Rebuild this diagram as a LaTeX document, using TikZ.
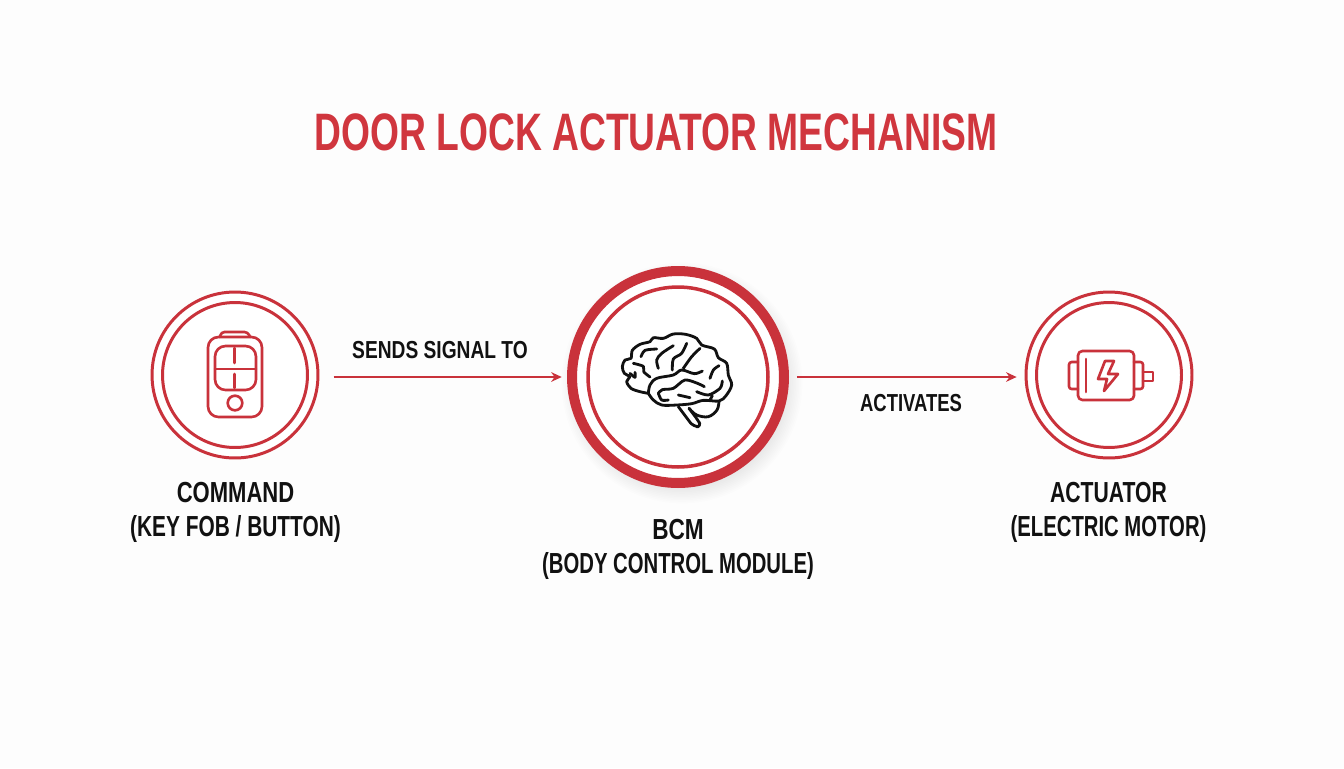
\documentclass[tikz,border=0pt]{standalone}
\usepackage{fontspec}
\setmainfont{Liberation Sans}
\usepackage{xcolor}
\usetikzlibrary{calc,arrows.meta}
\definecolor{paper}{HTML}{FDFDFD}
\definecolor{lockred}{HTML}{C9323B}
\definecolor{titlered}{HTML}{D0363E}
\definecolor{ink}{HTML}{111111}
\newcommand{\nar}[2][0.78]{\scalebox{#1}[1]{#2}}
\tikzset{
  ring/.style={circle, draw=lockred, fill=white, inner sep=0pt, line width=1.7pt, minimum size=#1},
  bigring/.style={ring=#1, line width=5.7pt},
  midring/.style={ring=#1, line width=2pt},
  flow/.style={draw=lockred, line width=1.4pt, -{Stealth[length=6pt,width=5.5pt]}},
  icon/.style={draw=lockred, line width=1.5pt, line cap=round, line join=round},
  brain/.style={draw=ink, line width=1.6pt, line cap=round, line join=round},
  lab/.style={text=ink, font=\bfseries\fontsize{16.5}{19.3}\selectfont, align=center, inner sep=0pt},
  labs/.style={text=ink, font=\bfseries\fontsize{14}{17}\selectfont, align=center, inner sep=0pt},
  ttl/.style={text=titlered, font=\bfseries\fontsize{30}{36}\selectfont, inner sep=0pt},
}
\begin{document}
\begin{tikzpicture}[x=0.02cm,y=-0.02cm]
  \fill[paper] (0,0) rectangle (1344,768);
  \useasboundingbox (0,0) rectangle (1344,768);
  \foreach \k in {1,...,10}
    \fill[black,opacity=0.006] (682,383) circle ({122-\k*1.6});

  \node[ttl] (title) at (656,132) {\nar[0.706]{DOOR LOCK ACTUATOR MECHANISM}};

  \node[ring=3.32cm] (fob) at (235,375) {};
  \node[ring=2.9cm] (fobin) at (235,375) {};
  \node[bigring=4.24cm] (bcm) at (678,377) {};
  \node[midring=3.6cm] (bcmin) at (678,377) {};
  \node[ring=3.32cm] (act) at (1109,375) {};
  \node[ring=2.9cm] (actin) at (1109,375) {};

  \draw[flow,shorten <=8pt,shorten >=3pt] (fob.east |- 0,377) -- (bcm.west);
  \draw[flow,shorten <=4.5pt,shorten >=4.5pt] (bcm.east) -- (act.west |- 0,377);

  \node[labs] (sends) at (440,350) {\nar{SENDS SIGNAL TO}};
  \node[labs] (activates) at (911,403) {\nar[0.75]{ACTIVATES}};
  \node[lab] (cmdlab) at (235.5,512) {\nar[0.76]{COMMAND}\\\nar[0.72]{(KEY FOB / BUTTON)}};
  \node[lab] (bcmlab) at (678,549) {\nar{BCM}\\\nar[0.70]{(BODY CONTROL MODULE)}};
  \node[lab] (actlab) at (1108.5,512) {\nar[0.73]{ACTUATOR}\\\nar[0.70]{(ELECTRIC MOTOR)}};

  \draw[icon,rounded corners=2pt] (220,337) -- (221,332) -- (248,332) -- (250,337);
  \draw[icon,rounded corners=6pt] (208,337) rectangle (262,417);
  \draw[icon,rounded corners=6pt] (215,346) rectangle (256,390);
  \draw[icon] (215,369) -- (256,369);
  \draw[icon] (234.7,348) -- (234.7,363);
  \draw[icon] (234.7,374) -- (234.7,388);
  \draw[icon] (235,403) circle (7.3);

  \draw[icon,rounded corners=2.5pt] (1078,351) rectangle (1134,400);
  \draw[icon,rounded corners=1.5pt] (1078,362) -- (1069,362) -- (1069,389) -- (1078,389);
  \draw[icon,rounded corners=1.5pt] (1134,362) -- (1143,362) -- (1143,389) -- (1134,389);
  \draw[icon] (1143,372) -- (1153,372) -- (1153,381) -- (1143,381);
  \draw[icon] (1086,359) -- (1086,392);
  \draw[icon] (1105,361) -- (1114,361) -- (1108,374) -- (1118,374) -- (1104,391) -- (1107,379) -- (1098,379) -- cycle;

  \begin{scope}[shift={(615,325)},scale=1/3]
    \draw[brain,rounded corners=3pt] (190,245) -- (235,305) -- (260,305) -- (247,283) -- (222,250);
    \draw[brain] plot[smooth,tension=0.6] coordinates {(312,228) (306,255) (280,275) (245,270) (222,250)};
    \draw[brain,fill=white] plot[smooth,tension=0.55] coordinates {(100,205) (75,200) (48,190) (35,170) (44,155) (28,145) (22,125) (30,105) (48,100) (52,76) (75,58) (105,50) (115,38) (145,40) (175,27) (212,28) (245,40) (260,60) (298,72) (310,98) (335,115) (340,150) (350,180) (333,212) (312,228) (265,226) (230,236) (185,240) (140,240) (115,225) (100,205)};
    \draw[brain] plot[smooth,tension=0.55] coordinates {(100,205) (105,180) (125,160) (175,150) (200,135) (238,146) (262,138)};
    \draw[brain] plot[smooth] coordinates {(55,115) (85,124) (86,140) (105,156)};
    \draw[brain] plot[smooth] coordinates {(78,95) (90,76) (125,72)};
    \draw[brain] plot[smooth] coordinates {(130,130) (125,105) (140,85) (175,62)};
    \draw[brain] plot[smooth] coordinates {(172,135) (175,102) (200,85) (215,55)};
    \draw[brain] plot[smooth] coordinates {(205,130) (230,95) (255,70)};
    \draw[brain] plot[smooth] coordinates {(45,145) (60,157) (60,142)};
    \draw[brain] plot[smooth] coordinates {(285,160) (295,135) (312,122)};
    \draw[brain] plot[smooth] coordinates {(130,205) (142,194) (175,190) (210,165) (250,176) (268,185)};
    \draw[brain] plot[smooth] coordinates {(130,205) (140,225) (160,225)};
    \draw[brain] (190,210) -- (225,218);
    \draw[brain] plot[smooth] coordinates {(245,200) (280,210) (315,190) (322,168)};
    \draw[brain] (285,225) -- (292,212);
  \end{scope}
\end{tikzpicture}
\end{document}
